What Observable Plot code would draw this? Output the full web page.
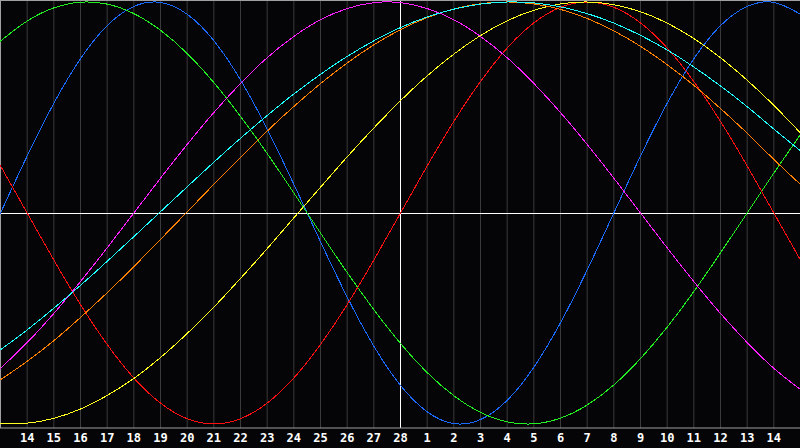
<!DOCTYPE html>
<html><head><meta charset="utf-8">
<script src="https://cdn.jsdelivr.net/npm/d3@7"></script>
<script src="https://cdn.jsdelivr.net/npm/@observablehq/plot@0.6"></script>
<style>html,body{margin:0;padding:0;background:#050507;overflow:hidden}</style>
</head><body><div id="chart"></div>
<script>
// Day labels under gridlines 1..29 (index 0 and 30 are the unlabelled edges)
const dayLabels = [14,15,16,17,18,19,20,21,22,23,24,25,26,27,28,1,2,3,4,5,6,7,8,9,10,11,12,13,14];

// Values read at each day column 0..30 (range -1..1)
const physical     = [0,0.27,0.52,0.731,0.888,0.979,0.998,0.942,0.817,0.631,0.398,0.136,-0.136,-0.398,-0.631,-0.817,-0.942,-0.998,-0.979,-0.888,-0.731,-0.52,-0.27,0,0.27,0.52,0.731,0.888,0.979,0.998,0.942];
const emotional    = [0.223,0,-0.223,-0.434,-0.623,-0.782,-0.901,-0.975,-1,-0.975,-0.901,-0.782,-0.623,-0.434,-0.223,0,0.223,0.434,0.623,0.782,0.901,0.975,1,0.975,0.901,0.782,0.623,0.434,0.223,0,-0.223];
const intellectual = [0.815,0.91,0.972,0.999,0.99,0.945,0.866,0.756,0.618,0.458,0.282,0.095,-0.095,-0.282,-0.458,-0.618,-0.756,-0.866,-0.945,-0.99,-0.999,-0.972,-0.91,-0.815,-0.69,-0.541,-0.372,-0.189,0,0.189,0.372];
const intuitive    = [-0.736,-0.614,-0.476,-0.325,-0.165,0,0.165,0.325,0.476,0.614,0.736,0.837,0.916,0.969,0.997,0.997,0.969,0.916,0.837,0.736,0.614,0.476,0.325,0.165,0,-0.165,-0.325,-0.476,-0.614,-0.736,-0.837];
const aesthetic    = [-0.998,-0.996,-0.973,-0.929,-0.865,-0.784,-0.685,-0.571,-0.446,-0.31,-0.169,-0.023,0.122,0.266,0.403,0.532,0.65,0.753,0.841,0.911,0.961,0.991,1,0.987,0.954,0.9,0.827,0.736,0.629,0.51,0.379];
const awareness    = [-0.79,-0.703,-0.605,-0.495,-0.378,-0.254,-0.125,0.005,0.136,0.264,0.388,0.505,0.613,0.711,0.797,0.869,0.926,0.967,0.992,1,0.991,0.965,0.922,0.863,0.79,0.703,0.605,0.495,0.378,0.254,0.135];
const spiritual    = [-0.648,-0.554,-0.451,-0.343,-0.229,-0.112,0.006,0.124,0.241,0.354,0.462,0.564,0.657,0.742,0.816,0.879,0.929,0.966,0.99,1,0.996,0.977,0.945,0.9,0.842,0.773,0.692,0.602,0.504,0.398,0.295];

const seriesNames = ["physical","intellectual","emotional","intuitive","aesthetic","awareness","spiritual"];
const seriesValues = [physical, intellectual, emotional, intuitive, aesthetic, awareness, spiritual];
const seriesColors = ["#1a6aff","#22ee22","#ff1010","#ff20ff","#ffff20","#ff8000","#20ffff"];

const rows = seriesNames.flatMap((s, j) => seriesValues[j].map((v, k) => ({series: s, k, v})));
const gridDays = dayLabels.map((d, i) => i + 1);
const todayIndex = dayLabels.indexOf(28) + 1;

const chart = Plot.plot({
  width: 800,
  height: 448,
  marginTop: 0, marginRight: 0, marginBottom: 20, marginLeft: 0,
  style: {background: "#050507", color: "white"},
  x: {domain: [0, 30], range: [0, 800], axis: null},
  y: {domain: [-1.0213, 1.0071], axis: null},
  color: {domain: seriesNames, range: seriesColors},
  marks: [
    Plot.ruleX(gridDays, {stroke: "#3a3a3a", strokeWidth: 1}),
    Plot.ruleY([0], {stroke: "white", strokeWidth: 1, dy: 0.5}),
    Plot.ruleX([todayIndex], {stroke: "white", strokeWidth: 1}),
    Plot.ruleX([0], {stroke: "#a0a0a0"}),
    Plot.ruleY([1.0071], {stroke: "#a0a0a0"}),
    Plot.ruleY([-1.0213], {stroke: "#a0a0a0", dy: -0.5}),
    Plot.line(rows, {x: "k", y: "v", z: "series", stroke: "series", strokeWidth: 1, curve: "natural", shapeRendering: "crispEdges"}),
    Plot.axisX(gridDays, {tickSize: 0, tickPadding: 5, tickFormat: (i) => dayLabels[i - 1], fill: "white", fontWeight: "bold", fontSize: 12, fontFamily: "DejaVu Sans Mono", label: null})
  ]
});
document.getElementById("chart").appendChild(chart);
</script>
</body></html>
